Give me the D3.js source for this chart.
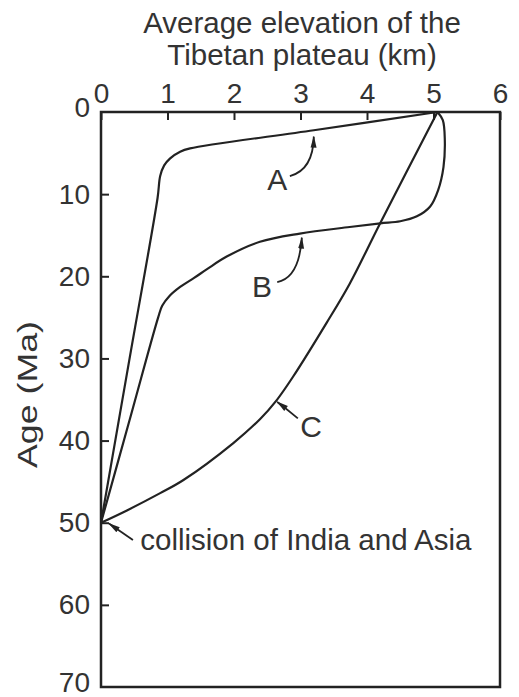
<!DOCTYPE html>
<html>
<head>
<meta charset="utf-8">
<script src="https://cdn.jsdelivr.net/npm/d3@7"></script>
<style>
  body { margin: 0; background: #fff; }
  text { font-family: "Liberation Sans", Arial, sans-serif; fill: #333; }
</style>
</head>
<body>
<div id="chart"></div>
<script>
// elevation (km), age (Ma) pairs
const curveA = [[0,50],[0.43,30],[0.85,10.5],[0.89,7.8],[0.95,6.5],[1.04,5.64],[1.19,4.83],[1.34,4.43],[3.2,2.22],[5.06,0]];
const curveB = [[0,50],[0.43,37.5],[0.86,25],[0.92,23.6],[1.03,22.4],[1.19,21.3],[1.4,20.2],[1.6,19.1],[1.89,17.6],[2.39,15.8],[2.99,14.8],[3.74,14.0],[4.2,13.55],[4.5,13.3],[4.75,12.7],[4.95,11.5],[5.07,9.5],[5.15,6.7],[5.17,3.4],[5.14,1],[5.06,0]];
const curveC = [[0,50],[0.39,48.5],[0.89,46.4],[1.24,44.8],[1.99,40.3],[2.39,37.4],[2.64,35.1],[2.89,32.2],[3.39,25.7],[3.74,20.9],[4.2,13.5],[5.06,0]];
const curves = [curveA, curveB, curveC];

const xTicks = [0, 1, 2, 3, 4, 5, 6];
const yTicks = [0, 10, 20, 30, 40, 50, 60, 70];

// curve labels: name, x, age of baseline
const labels = [["A", 2.65, 9.5], ["B", 2.42, 22.5], ["C", 3.16, 39.6]];
// arrows: start, control, tip (km, Ma)
const arrows = [
  [[2.84, 7.8], [3.19, 7.06], [3.2, 3.0]],
  [[2.65, 20.7], [2.98, 20.2], [3.02, 15.3]],
  [[2.96, 37.3], [2.8, 36.2], [2.65, 35.3]],
  [[0.48, 52.1], [0.3, 51.1], [0.12, 50.1]]
];

const width = 519, height = 697;
const margin = {top: 112, right: 19, bottom: 10, left: 101};

const x = d3.scaleLinear().domain([0, 6]).range([margin.left, width - margin.right]);
const y = d3.scaleLinear().domain([0, 70]).range([margin.top, height - margin.bottom]);

const svg = d3.select("#chart").append("svg")
  .attr("width", width)
  .attr("height", height);

svg.append("defs").append("marker")
  .attr("id", "head")
  .attr("viewBox", "0 0 12 10")
  .attr("refX", 11).attr("refY", 5)
  .attr("markerWidth", 12).attr("markerHeight", 10)
  .attr("markerUnits", "userSpaceOnUse")
  .attr("orient", "auto")
  .append("path")
  .attr("d", "M0,2L12,5L0,8Z")
  .attr("fill", "#222");

// title
svg.append("text")
  .attr("y", 33)
  .attr("text-anchor", "middle")
  .attr("font-size", 29.5)
  .selectAll("tspan")
  .data(["Average elevation of the", "Tibetan plateau (km)"])
  .join("tspan")
  .attr("x", 302)
  .attr("dy", (d, i) => i ? 32 : 0)
  .text(d => d);

// frame
svg.append("rect")
  .attr("x", x(0)).attr("y", y(0))
  .attr("width", x(6) - x(0)).attr("height", y(70) - y(0))
  .attr("fill", "none")
  .attr("stroke", "#222")
  .attr("stroke-width", 2.5);

// top axis, ticks pointing inward
const xAxis = svg.append("g")
  .attr("transform", `translate(0,${y(0)})`)
  .call(d3.axisTop(x).tickValues(xTicks).tickSize(-8).tickPadding(9).tickFormat(d3.format("d")));
xAxis.select(".domain").remove();
xAxis.selectAll("line").attr("stroke", "#222").attr("stroke-width", 2);
xAxis.selectAll("text")
  .attr("font-size", 28).attr("fill", "#333")
  .attr("font-family", "Liberation Sans, Arial, sans-serif");

// left axis, ticks pointing inward
const yAxis = svg.append("g")
  .attr("transform", `translate(${x(0)},0)`)
  .call(d3.axisLeft(y).tickValues(yTicks).tickSize(-8).tickPadding(11).tickFormat(d3.format("d")));
yAxis.select(".domain").remove();
yAxis.selectAll("line").attr("stroke", "#222").attr("stroke-width", 2);
yAxis.selectAll("text")
  .attr("font-size", 28).attr("fill", "#333")
  .attr("font-family", "Liberation Sans, Arial, sans-serif");
yAxis.selectAll(".tick").filter(d => d === 0 || d === 70).select("line").remove();
yAxis.selectAll(".tick").filter(d => d === 0 || d === 70).select("text").attr("y", -4);

svg.append("text")
  .attr("transform", `translate(37,${(y(0) + y(70)) / 2 - 5}) rotate(-90)`)
  .attr("text-anchor", "middle")
  .attr("font-size", 28)
  .attr("textLength", 147)
  .attr("lengthAdjust", "spacingAndGlyphs")
  .text("Age (Ma)");

// curves
const line = d3.line()
  .x(d => x(d[0]))
  .y(d => y(d[1]))
  .curve(d3.curveCatmullRom.alpha(0.5));

svg.append("g")
  .attr("fill", "none")
  .attr("stroke", "#222")
  .attr("stroke-width", 2.2)
  .selectAll("path")
  .data(curves)
  .join("path")
  .attr("d", line);

// arrows
svg.append("g")
  .attr("fill", "none")
  .attr("stroke", "#222")
  .attr("stroke-width", 1.8)
  .selectAll("path")
  .data(arrows)
  .join("path")
  .attr("marker-end", "url(#head)")
  .attr("d", d => {
    const p = d3.path();
    p.moveTo(x(d[0][0]), y(d[0][1]));
    p.quadraticCurveTo(x(d[1][0]), y(d[1][1]), x(d[2][0]), y(d[2][1]));
    return p.toString();
  });

svg.append("g")
  .attr("font-size", 30)
  .attr("text-anchor", "middle")
  .selectAll("text")
  .data(labels)
  .join("text")
  .attr("x", d => x(d[1]))
  .attr("y", d => y(d[2]))
  .text(d => d[0]);

svg.append("text")
  .attr("x", x(0.59)).attr("y", y(53.3))
  .attr("font-size", 29.5)
  .text("collision of India and Asia");
</script>
</body>
</html>
